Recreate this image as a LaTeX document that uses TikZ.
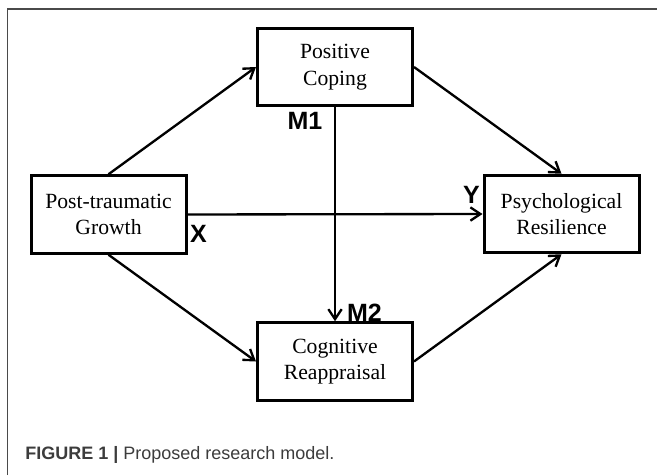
\documentclass[tikz,border=0pt]{standalone}
\usepackage{fontspec}
\setmainfont{Liberation Serif}
\setsansfont{Liberation Sans}
\usepackage{tikz}
\usetikzlibrary{arrows.meta}

\definecolor{framegray}{HTML}{4A4A4A}
\definecolor{capgray}{HTML}{3C3C3C}

\tikzset{
  var/.style={draw, line width=1.8pt, minimum width=93pt, minimum height=46.5pt,
    align=center, font=\fontsize{13}{16}\selectfont, inner sep=2pt},
  tag/.style={font=\sffamily\bfseries\fontsize{15}{15}\selectfont, inner sep=0pt},
  edge/.style={line width=1.4pt, -{Straight Barb[length=6pt,width=8pt,line width=1.4pt]}}
}

\begin{document}
\begin{tikzpicture}[x=0.6pt, y=0.6pt]

  \useasboundingbox (0,0) rectangle (657,475);

  % Frame
  \draw[framegray, line width=0.8pt] (7.5,0) -- (7.5,466) -- (657,466);

  % Predictor and outcome
  \node[var] (ptg) at (108.5,260.5) {Post-traumatic\\Growth};
  \node[var] (res) at (561.5,261)   {Psychological\\Resilience};

  % Mediators
  \node[var] (cop) at (335,408)   {Positive\\Coping};
  \node[var] (rea) at (335,113.5) {Cognitive\\Reappraisal};

  % Path labels
  \node[tag] (m1) at (305,354)   {M1};
  \node[tag] (m2) at (364.5,162) {M2};
  \node[tag] (x)  at (198.5,241) {X};
  \node[tag] (y)  at (471.5,280) {Y};

  % Edges
  \draw[edge] (ptg.north) -- (cop.west);
  \draw[edge] (ptg.south) -- (rea.west);
  \draw[edge] (cop.east) -- (res.north);
  \draw[edge] (rea.east) -- (res.south);
  \draw[edge] (ptg.east) -- (res.west);
  \draw[edge] (cop.south) -- (rea.north);

  % Caption
  \node[anchor=base west, inner sep=0pt, capgray,
    font=\sffamily\fontsize{10.8}{12}\selectfont] (cap) at (25,16)
    {\textbf{FIGURE 1 |} Proposed research model.};

\end{tikzpicture}
\end{document}
